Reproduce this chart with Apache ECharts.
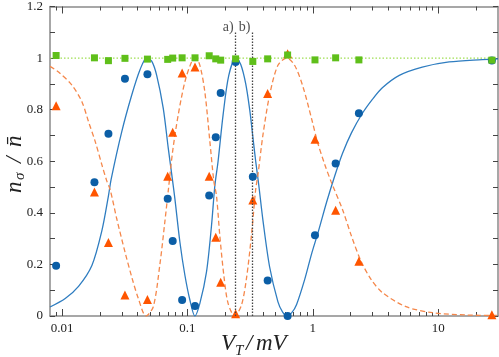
<!DOCTYPE html>
<html>
<head>
<meta charset="utf-8">
<script src="https://cdn.jsdelivr.net/npm/echarts@6/dist/echarts.min.js"></script>
<style>
  html, body { margin: 0; padding: 0; background: #fff; }
  #chart { width: 499px; height: 357px; }
</style>
</head>
<body>
<div id="chart"></div>
<script>
  // measured points, V_T in mV
  const vt = [0.00895, 0.0181, 0.0234, 0.0317, 0.0479, 0.0695, 0.0762, 0.0906, 0.1148, 0.149,
              0.168, 0.184, 0.242, 0.332, 0.436, 0.629, 1.04, 1.52, 2.33, 26.8]
  const nUp = [0.195, 0.519, 0.707, 0.920, 0.937, 0.455, 0.291, 0.062, 0.039, 0.467,
               0.693, 0.865, 0.985, 0.540, 0.138, 0.0, 0.313, 0.591, 0.786, 0.991]
  const nDown = [0.815, 0.481, 0.285, 0.081, 0.064, 0.542, 0.712, 0.942, 0.965, 0.542,
                 0.305, 0.131, 0.009, 0.450, 0.863, 1.017, 0.685, 0.410, 0.212, 0.005]
  const nSum = [1.010, 1.001, 0.990, 0.999, 0.996, 0.995, 1.000, 1.001, 1.001, 1.009,
                0.997, 0.992, 0.997, 0.987, 0.997, 1.012, 0.993, 1.001, 0.993, 0.992]

  // theory curves
  const upFitV = [0.008, 0.01058, 0.01351, 0.01727, 0.02073, 0.02339, 0.02459, 0.0299, 0.03591, 0.0418,
                  0.04726, 0.05181, 0.05678, 0.06407, 0.07022, 0.07611, 0.07939, 0.08701, 0.09535, 0.1045,
                  0.1145, 0.1255, 0.1418, 0.1554, 0.1652, 0.1754, 0.1923, 0.2135, 0.2427, 0.266,
                  0.2915, 0.3135, 0.3313, 0.35, 0.3699, 0.4001, 0.4522, 0.5267, 0.5741, 0.621,
                  0.677, 0.742, 0.859, 0.976, 1.11, 1.285, 1.488, 1.723, 2.032, 2.486,
                  2.985, 3.585, 4.894, 7.46, 12.23, 22.4, 30]
  const upFitN = [0.035, 0.068, 0.115, 0.196, 0.33, 0.465, 0.53, 0.715, 0.857, 0.955,
                  1.0, 0.988, 0.933, 0.805, 0.651, 0.523, 0.453, 0.286, 0.158, 0.062,
                  0.0, 0.049, 0.171, 0.35, 0.504, 0.6, 0.78, 0.933, 1.0, 0.975,
                  0.9, 0.8, 0.7, 0.6, 0.51, 0.37, 0.19, 0.055, 0.015, 0.0,
                  0.012, 0.045, 0.14, 0.24, 0.33, 0.44, 0.54, 0.63, 0.71, 0.786,
                  0.84, 0.885, 0.933, 0.965, 0.985, 0.994, 0.997]
  const downFitV = [0.008, 0.00936, 0.01197, 0.01437, 0.01622, 0.01834, 0.02073, 0.02272, 0.02413, 0.02729,
                    0.03177, 0.03591, 0.04053, 0.04668, 0.05335, 0.06033, 0.0661, 0.07022, 0.07611, 0.08433,
                    0.09535, 0.1078, 0.116, 0.1255, 0.1375, 0.1508, 0.1622, 0.1704, 0.181, 0.1949,
                    0.2108, 0.2382, 0.2694, 0.2953, 0.3236, 0.35, 0.3651, 0.4001, 0.4522, 0.5267,
                    0.621, 0.7152, 0.8327, 0.9712, 1.096, 1.239, 1.401, 1.733, 2.032, 2.427,
                    2.931, 3.606, 5.534, 9.01, 16.61, 30]
  const downFitN = [0.968, 0.946, 0.895, 0.831, 0.754, 0.677, 0.587, 0.523, 0.491, 0.376,
                    0.247, 0.151, 0.068, 0.0, 0.036, 0.203, 0.369, 0.485, 0.638, 0.78,
                    0.908, 0.985, 1.0, 0.972, 0.869, 0.677, 0.523, 0.465, 0.312, 0.158,
                    0.049, 0.0, 0.042, 0.145, 0.312, 0.491, 0.549, 0.703, 0.857, 0.972,
                    1.0, 0.972, 0.89, 0.77, 0.67, 0.59, 0.52, 0.41, 0.31, 0.212,
                    0.14, 0.09, 0.036, 0.013, 0.004, 0.002]
  const sumFitV = [0.008, 30]
  const sumFitN = [1, 1]

  // vertical markers a) and b)
  const markNames = ['a)', 'b)']
  const markV = [0.242, 0.33]
  const markTop = 1.1

  // axes
  const xMin = 0.008
  const xMax = 30
  const xMajor = [0.01, 0.1, 1, 10]
  const xMajorLabels = ['0.01', '0.1', '1', '10']
  const xMinor = [0.009, 0.02, 0.03, 0.04, 0.05, 0.06, 0.07, 0.08, 0.09,
                  0.2, 0.3, 0.4, 0.5, 0.6, 0.7, 0.8, 0.9,
                  2, 3, 4, 5, 6, 7, 8, 9, 20]
  const yLabels = [0, 0.2, 0.4, 0.6, 0.8, 1, 1.2]

  const FONT = '"Liberation Serif", "DejaVu Serif", serif'
  const lg = v => Math.log10(v)
  const pairs = (xs, ys) => xs.map((x, i) => [lg(x), ys[i]])

  const frame = '#8a8a8a'
  const tickCol = '#444'

  function xAxisOf (pos, ticks, len, withLine, withLabel) {
    return {
      type: 'value', position: pos, min: lg(xMin), max: lg(xMax),
      axisLine: { show: withLine, onZero: false, lineStyle: { color: frame, width: 1.5 } },
      axisTick: { show: true, inside: true, length: len, customValues: ticks.map(lg),
                  lineStyle: { color: tickCol, width: 1 } },
      axisLabel: withLabel ? {
        show: true, customValues: xMajor.map(lg), margin: 6,
        fontFamily: FONT, fontSize: 13, color: '#222',
        formatter: v => xMajorLabels[xMajor.findIndex(t => Math.abs(lg(t) - v) < 1e-6)] || ''
      } : { show: false },
      splitLine: { show: false }
    }
  }

  function yAxisOf (pos, withLabel) {
    return {
      type: 'value', position: pos, min: 0, max: 1.2, interval: 0.1,
      axisLine: { show: true, onZero: false, lineStyle: { color: frame, width: 1.5 } },
      axisTick: { show: true, inside: true, length: 5, lineStyle: { color: tickCol, width: 1 } },
      axisLabel: withLabel ? {
        show: true, customValues: yLabels, margin: 7,
        fontFamily: FONT, fontSize: 13, color: '#222',
        formatter: v => String(+v.toFixed(1))
      } : { show: false },
      splitLine: { show: false }
    }
  }

  const mathFont = size => 'italic ' + size + 'px ' + FONT

  const chart = echarts.init(document.getElementById('chart'), null, { renderer: 'canvas' })
  const option = {
    animation: false,
    backgroundColor: '#fff',
    grid: { left: 50, right: 1, top: 4, bottom: 41 },
    xAxis: [
      xAxisOf('bottom', xMajor, 7, true, true),
      xAxisOf('bottom', xMinor, 4, false, false),
      xAxisOf('top', xMajor, 7, true, false),
      xAxisOf('top', xMinor, 4, false, false)
    ],
    yAxis: [yAxisOf('left', true), yAxisOf('right', false)],
    graphic: [
      { type: 'text', left: 221, top: 332, style: { text: 'V', font: mathFont(23), fill: '#222' } },
      { type: 'text', left: 235, top: 344, style: { text: 'T', font: mathFont(15), fill: '#222' } },
      { type: 'text', left: 246, top: 332, style: { text: '/', font: mathFont(23), fill: '#222' } },
      { type: 'text', left: 256, top: 332, style: { text: 'mV', font: mathFont(23), fill: '#222' } },
      {
        type: 'group', x: 3, y: 193, rotation: Math.PI / 2,
        children: [
          { type: 'text', x: 0, y: 0, style: { text: 'n', font: mathFont(23), fill: '#222' } },
          { type: 'text', x: 13, y: 10, style: { text: 'σ', font: mathFont(15), fill: '#222' } },
          { type: 'text', x: 30, y: 0, style: { text: '/', font: mathFont(23), fill: '#222' } },
          { type: 'text', x: 46, y: 0, style: { text: 'n\u0304', font: mathFont(23), fill: '#222' } }
        ]
      }
    ],
    series: [
      {
        name: 'up fit', type: 'line', data: pairs(upFitV, upFitN), smooth: 0.3,
        showSymbol: false, z: 2, lineStyle: { color: '#2f7dc0', width: 1.3 }
      },
      {
        name: 'down fit', type: 'line', data: pairs(downFitV, downFitN), smooth: 0.3,
        showSymbol: false, z: 2, lineStyle: { color: '#f5874a', width: 1.3, type: [5, 3] }
      },
      {
        name: 'sum fit', type: 'line', data: pairs(sumFitV, sumFitN),
        showSymbol: false, z: 2, lineStyle: { color: '#9fe052', width: 1.2, type: [1.5, 2] }
      },
      {
        name: 'marks', type: 'scatter', symbolSize: 0, z: 3,
        data: markV.map((v, i) => ({ value: [lg(v), markTop], name: markNames[i] })),
        label: {
          show: true, position: 'left', distance: 2, offset: [0, -5],
          formatter: p => p.name, fontFamily: FONT, fontSize: 14, color: '#222'
        },
        markLine: {
          silent: true, symbol: 'none', label: { show: false },
          lineStyle: { color: '#444', width: 1.3, type: [1.5, 1.5] },
          data: markV.map(v => [{ coord: [lg(v), 0] }, { coord: [lg(v), markTop] }])
        }
      },
      {
        name: 'down', type: 'scatter', symbol: 'triangle', symbolSize: 9, z: 4,
        data: pairs(vt, nDown), itemStyle: { color: '#ff5500', opacity: 1 }
      },
      {
        name: 'up', type: 'scatter', symbol: 'circle', symbolSize: 8, z: 5,
        data: pairs(vt, nUp), itemStyle: { color: '#0b5ea6', opacity: 1 }
      },
      {
        name: 'sum', type: 'scatter', symbol: 'rect', symbolSize: 7, z: 6,
        data: pairs(vt, nSum), itemStyle: { color: '#5fbf1a', opacity: 1 }
      }
    ]
  }
  chart.setOption(option)
</script>
</body>
</html>
